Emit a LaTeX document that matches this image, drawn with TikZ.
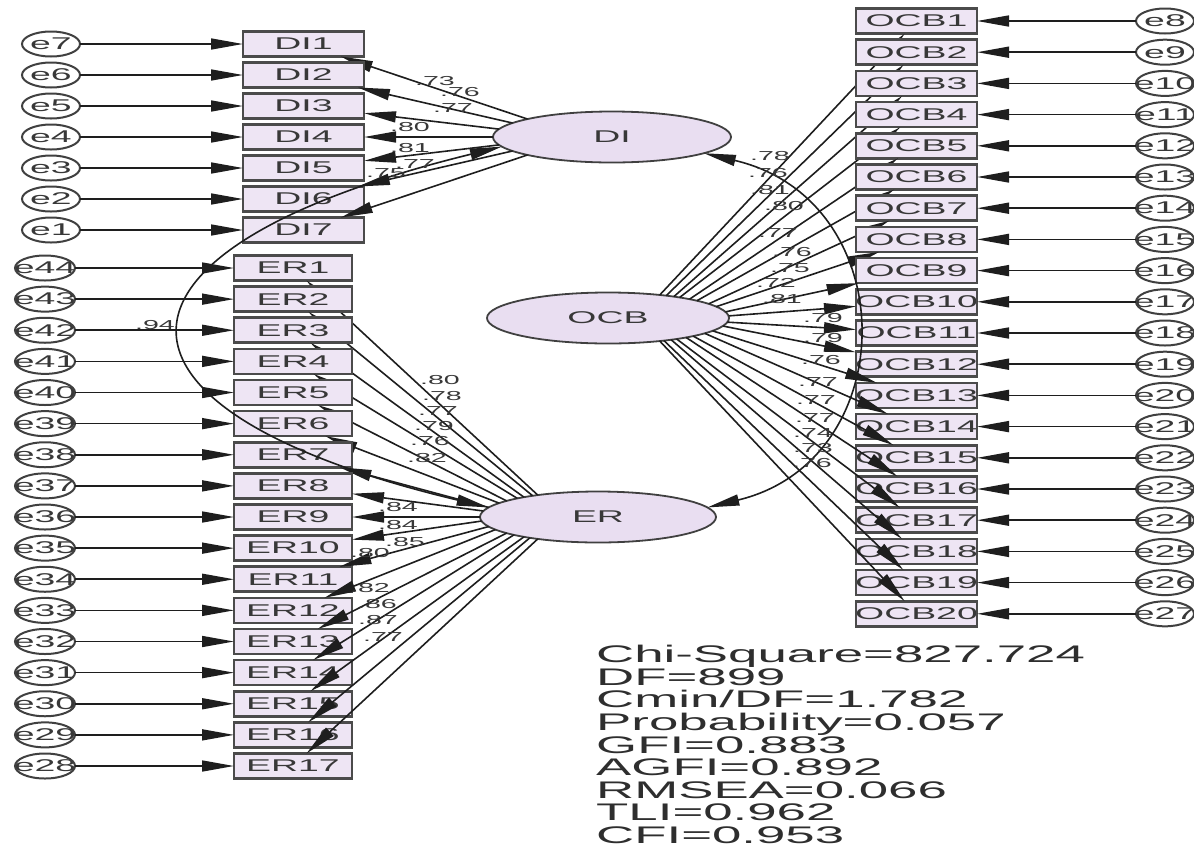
\documentclass[tikz,border=0pt]{standalone}
\usepackage{fontspec}
\newfontfamily\amosfont{Liberation Sans}[FakeStretch=2.2]
\usetikzlibrary{arrows.meta,positioning,shapes.geometric}
\definecolor{amosbox}{HTML}{EEE5F4}
\definecolor{amoslat}{HTML}{E9DEF1}
\definecolor{amosline}{HTML}{1E1E1E}
\definecolor{amostext}{HTML}{383838}

\tikzset{
  latent/.style={ellipse, draw=amosline!85, line width=1.8pt, fill=amoslat, minimum height=51pt,
    inner sep=0pt, outer sep=0pt, text=amostext, font=\amosfont\fontsize{17}{17}\selectfont},
  obs/.style={rectangle, draw=amosline!80, line width=2.6pt, fill=amosbox, minimum height=25pt,
    inner sep=0pt, outer sep=0pt},
  err/.style={ellipse, draw=amosline!85, line width=2pt, fill=white, minimum width=58pt,
    minimum height=25pt, inner sep=0pt, outer sep=0pt},
  clipped/.style={path picture={\node[text=amostext, font=\amosfont\fontsize{17}{17}\selectfont]
    at (path picture bounding box.center) {#1};}},
  arr/.style={->, line width=1.6pt, draw=amosline},
  coef/.style={text=amostext, font=\amosfont\fontsize{13}{13}\selectfont, inner sep=0pt},
  stats/.style={align=left, anchor=north west, inner sep=0pt, text=black!82,
    font=\amosfont\fontsize{24}{22.6}\selectfont}
}

\begin{document}
\begin{tikzpicture}[x=1pt, y=-1pt, >={Triangle[length=32pt,width=11pt]}]
  \useasboundingbox (0,0) rectangle (1194,847);

  % Latent variables
  \node[latent, minimum width=238pt] (di) at (612,137) {DI};
  \node[latent, minimum width=242pt] (ocb) at (608,318) {OCB};
  \node[latent, minimum width=236pt] (er) at (598,517) {ER};

  % DI indicators
  \foreach \i in {1,...,7}{
    \pgfmathtruncatemacro\k{8-\i}
    \pgfmathtruncatemacro\a{180-(4-\i)*4}
    \node[obs, minimum width=121pt, clipped=DI\i] (di\i) at (303.5,{44+31*(\i-1)}) {};
    \node[err, clipped=e\k] (e\k) at (51,{44+31*(\i-1)}) {};
    \draw[arr] (e\k) -- (di\i);
    \draw[arr] (di.\a) -- (di\i);
  }

  % ER indicators
  \foreach \j in {1,...,17}{
    \pgfmathtruncatemacro\k{45-\j}
    \pgfmathtruncatemacro\a{180-(9-\j)*2.5}
    \node[obs, minimum width=118pt, clipped=ER\j] (er\j) at (293,{268+31.125*(\j-1)}) {};
    \node[err, minimum width=60pt, clipped=e\k] (e\k) at (45,{268+31.125*(\j-1)}) {};
    \draw[arr] (e\k) -- (er\j);
    \draw[arr] (er.\a) -- (er\j);
  }

  % OCB indicators
  \foreach \k in {1,...,20}{
    \pgfmathtruncatemacro\m{\k+7}
    \pgfmathtruncatemacro\a{mod(384-(\k-1)*48/19,360)}
    \node[obs, minimum width=121pt, clipped=OCB\k] (ocb\k) at (916.5,{21+31.2*(\k-1)}) {};
    \node[err, clipped=e\m] (e\m) at (1165,{21+31.2*(\k-1)}) {};
    \draw[arr] (e\m) -- (ocb\k);
    \draw[arr] (ocb.\a) -- (ocb\k);
  }

  % Covariances
  \draw[arr, <->] (di.185) .. controls (80,250) and (80,410) .. (er.175);
  \draw[arr, <->] (di.350) .. controls (904,200) and (904,460) .. (er.5);
  \node[coef] (cov) at (155,325) {.94};

  % Loadings
  \foreach \v/\px/\py [count=\n] in {.73/435/81, .76/460/92, .77/453/108, .80/410/127,
      .81/410/148, .77/415/164, .75/386/173}
    \node[coef] (ldi\n) at (\px,\py) {\v};
  \foreach \v/\px/\py [count=\n] in {.80/440/380, .78/442/396, .77/438/411, .79/434/426,
      .76/430/441, .82/427/458, .84/398/507, .84/398/525, .85/405/542, .80/370/553,
      .82/370/588, .86/377/604, .87/378/620, .77/383/637}
    \node[coef] (ler\n) at (\px,\py) {\v};
  \foreach \v/\px/\py [count=\n] in {.78/770/156, .76/768/173, .81/770/190, .80/784/206,
      .77/778/233, .76/792/252, .75/790/268, .72/776/283, .81/782/299, .79/823/318,
      .79/823/338, .76/821/360, .77/818/382, .77/816/400, .77/815/418, .74/813/433,
      .73/813/448, .76/812/463}
    \node[coef] (locb\n) at (\px,\py) {\v};

  % Fit indices
  \node[stats] (fitstats) at (596,645) {Chi-Square=827.724\\DF=899\\Cmin/DF=1.782\\
    Probability=0.057\\GFI=0.883\\AGFI=0.892\\RMSEA=0.066\\TLI=0.962\\CFI=0.953};
\end{tikzpicture}
\end{document}
